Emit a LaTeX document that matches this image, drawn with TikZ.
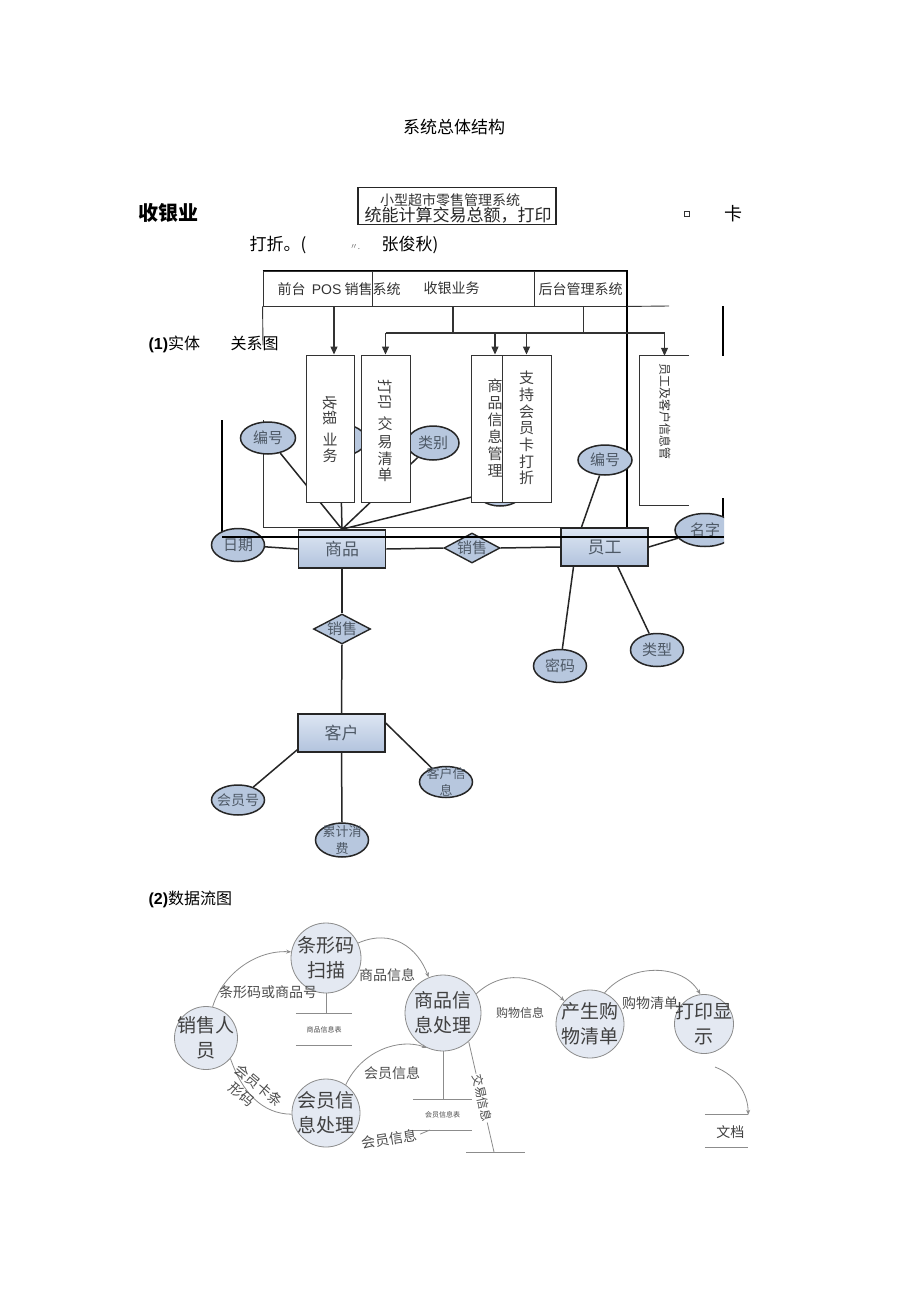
\documentclass[tikz,border=0pt]{standalone}
\usepackage{fontspec}
\setmainfont{Noto Sans CJK SC}
\newfontfamily\arialf{Liberation Sans}
\usetikzlibrary{shapes.geometric,arrows.meta,calc}
\newcommand\fsz[2]{\fontsize{#1pt}{#2pt}\selectfont}
\definecolor{erTop}{HTML}{DDE6F3}
\definecolor{erBot}{HTML}{B2C3DD}
\definecolor{ellfill}{HTML}{B7C7DE}
\definecolor{ertext}{HTML}{4E5966}
\definecolor{dfdfill}{HTML}{E4E9F2}
\definecolor{dfdline}{HTML}{8C8C8C}
\definecolor{dtext}{HTML}{404040}
\begin{document}
\begin{tikzpicture}[x=1pt,y=-1pt,
  er/.style={draw=black!85,line width=1.5pt},
  entity/.style={rectangle,draw=black!85,line width=1.6pt,top color=erTop,bottom color=erBot,
     minimum width=87pt,minimum height=38pt,inner sep=0pt,text=ertext,font=\fsz{17}{17}},
  attr/.style={ellipse,draw=black!85,line width=1.5pt,fill=ellfill,inner sep=0pt},
  ltxt/.style={text=ertext,font=\fsz{15}{15},align=center},
  rel/.style={diamond,draw=black!85,line width=1.4pt,fill=ellfill,inner sep=0pt,
     minimum width=56pt,minimum height=30pt},
  sbox/.style={rectangle,draw=black!80,line width=0.9pt,fill=white,minimum width=48pt,
     minimum height=147pt,inner sep=0pt},
  bar/.style={rectangle,draw=black!80,line width=0.9pt,minimum height=35pt,inner sep=0pt},
  vtxt/.style={font=\fsz{15}{15},text=black!75},
  sline/.style={draw=black!80,line width=1.1pt},
  sarr/.style={draw=black!80,line width=1.1pt,-{Triangle[length=8pt,width=7pt]}},
  proc/.style={circle,draw=dfdline,line width=0.8pt,fill=dfdfill,inner sep=0pt},
  ptxt/.style={text=dtext,font=\fsz{19}{25},align=center},
  flow/.style={draw=dfdline,line width=0.8pt,-{Stealth[length=5pt,width=4pt]}},
  fline/.style={draw=dfdline,line width=0.8pt},
  dlab/.style={text=black!70,font=\fsz{14}{14}},
  store/.style={draw=dfdline,line width=0.8pt}]
\fill[white] (0,0) rectangle (920,1303);
\useasboundingbox (0,0) rectangle (920,1303);

% ---------- header texts ----------
\node[font=\fsz{17}{17}] (title) at (454,127) {系统总体结构};
\node[font=\fsz{20}{20}\bfseries] (syy) at (168,213) {收银业};
\node[draw=black!85,line width=1.2pt,minimum width=198pt,minimum height=37pt,inner sep=0pt] (topbox) at (457,206) {};
\node[font=\fsz{14}{14},text=black!80] (tb1) at (450,200) {小型超市零售管理系统};
\node[font=\fsz{17}{17},text=black!85] (tb2) at (458,215) {统能计算交易总额，打印};
\node[draw=black!80,line width=0.6pt,minimum size=5pt,inner sep=0pt] (sq) at (687,214) {};
\node[font=\fsz{18}{18}] (ka) at (733,214) {卡};
\node[font=\fsz{17}{17},anchor=west] (dz) at (246,245) {打折。(};
\node[font=\fsz{8}{8},text=black!60] (dd) at (355,247) {〃.};
\node[font=\fsz{17}{17},anchor=west] (zjq) at (378,245) {张俊秋)};

% ---------- structure chart frame ----------
\node[bar,minimum width=109pt] (bar1) at (317.5,288.5) {};
\node[bar,minimum width=162pt] (bar2) at (453,288.5) {};
\node[bar,minimum width=93pt] (bar3) at (580.5,288.5) {};
\draw[line width=1.6pt] (bar1.north west) -- (bar3.north east);
\draw[line width=1.8pt] (627,270) -- (627,527);
\draw[line width=0.9pt,black!80] (bar3.south east) -- (669,306);
\draw[line width=0.9pt,black!80] (bar1.south west) -- (263,345);
\draw[line width=0.9pt,black!80] (263,420) -- (263,527) -- (627,527);
\draw[line width=1.3pt] (723,306) -- (723,356);
\draw[line width=1.1pt] (723,498) -- (723,537);
\draw[line width=1.1pt] (222,420) -- (222,537);
\node[font=\fsz{14}{14},text=black!80,anchor=west] (b1t) at (274,289) {前台\ \ {\arialf POS} 销售系统};
\node[font=\fsz{14}{14},text=black!80,anchor=west] (b2t) at (420,288) {收银业务};
\node[font=\fsz{14}{14},text=black!80,anchor=west] (b3t) at (535,289) {后台管理系统};

\node[font=\fsz{16}{16},anchor=west] (l1) at (145,344) {{\arialf\bfseries (1)}实体};
\node[font=\fsz{16}{16},anchor=west] (l1b) at (227,343) {关系图};

% ---------- ER nodes partly hidden behind the chart ----------
\node[entity] (shangpin) at (342,549) {商品};
\node[attr,minimum width=55pt,minimum height=32pt,label={[ltxt]center:编号}] (bianhao1) at (268,438) {};
\node[attr,minimum width=52pt,minimum height=32pt] (hid1) at (340,440) {};
\node[attr,minimum width=48pt,minimum height=32pt] (hid2) at (500,490) {};
\draw[er] (shangpin.north) -- (bianhao1);
\draw[er] (shangpin.north) -- (hid1);
\draw[er] (shangpin.north) -- (hid2);
\node[attr,minimum width=52pt,minimum height=34pt,label={[ltxt]center:类别}] (leibie) at (433,443) {};
\draw[er] (shangpin.north) -- (leibie);

% ---------- structure chart boxes ----------
\node[sbox] (box1) at (330,428.5) {};
\node[sbox,minimum width=49pt] (box2) at (385.5,428.5) {};
\node[sbox] (box3) at (495,428.5) {};
\node[sbox,minimum width=49pt] (box4) at (526.5,428.5) {};
\node[minimum width=49pt,minimum height=149pt,inner sep=0pt] (box5) at (664.5,430.5) {};
\draw[line width=0.9pt,black!80] (box5.north east) -- (box5.north west) -- (box5.south west) -- (box5.south east);

\node[vtxt,rotate=-90] (t1a) at (330,410) {收银};
\node[vtxt] (t1b) at (330,439) {业};
\node[vtxt] (t1c) at (330,456) {务};
\node[vtxt,rotate=-90] (t2a) at (385,394) {打印};
\node[vtxt] (t2b) at (385,424) {交};
\node[vtxt] (t2c) at (385,442) {易};
\node[vtxt] (t2d) at (385,459) {清};
\node[vtxt] (t2e) at (385,475) {单};
\node[vtxt,font=\fsz{15}{17},align=center] (t3) at (495,428) {商\\品\\信\\息\\管\\理};
\node[vtxt,font=\fsz{15}{16.7},align=center] (t4) at (526.5,428) {支\\持\\会\\员\\卡\\打\\折};
\node[font=\fsz{12}{12},text=black!80,rotate=-90] (t5) at (665,411) {员工及客户信息管};

\coordinate (dL) at (385.5,333);
\coordinate (dR) at (664.5,333);
\draw[sline] (dL) -- (dR);
\draw[sline] (bar2.south) -- (bar2.south |- dL);
\draw[sline] ($(bar3.south)+(3,0)$) -- ($(bar3.south |- dL)+(3,0)$);
\draw[sarr] ($(box1.north |- bar1.south)+(4,0)$) -- ($(box1.north)+(4,0)$);
\draw[sarr] (dL) -- (box2.north);
\draw[sarr] (box3.north |- dL) -- (box3.north);
\draw[sarr] (box4.north |- dL) -- (box4.north);
\draw[sarr] (dR) -- (box5.north);

% ---------- ER diagram ----------
\node[attr,minimum width=53pt,minimum height=33pt,label={[ltxt]center:日期}] (riqi) at (238,545) {};
\node[rel,label={[ltxt]center:销售}] (xs1) at (472,548) {};
\node[entity] (yuangong) at (604.5,547) {员工};
\begin{scope}
  \clip (0,0) rectangle (724,1303);
  \node[attr,minimum width=60pt,minimum height=33pt,label={[ltxt]center:名字}] (mingzi) at (705,530) {};
\end{scope}
\node[attr,minimum width=54pt,minimum height=30pt,label={[ltxt]center:编号}] (bianhao2) at (605,460) {};
\node[attr,minimum width=53pt,minimum height=33pt,label={[ltxt]center:密码}] (mima) at (560,666) {};
\node[attr,minimum width=53pt,minimum height=33pt,label={[ltxt]center:类型}] (leixing) at (657,650) {};
\node[rel,minimum width=57pt,label={[ltxt]center:销售}] (xs2) at (342,629) {};
\node[entity] (kehu) at (341.5,733) {客户};
\node[attr,minimum width=53pt,minimum height=30pt,label={[ltxt,font=\fsz{14}{14}]center:会员号}] (hyh) at (238,800) {};
\node[attr,minimum width=53pt,minimum height=34pt,label={[ltxt,font=\fsz{13}{17}]center:{累计消\\费}}] (leiji) at (342,840) {};
\node[attr,minimum width=53pt,minimum height=31pt,label={[ltxt,font=\fsz{13}{17}]center:{客户信\\息}}] (khxx) at (446,782) {};

\draw[er] (riqi) -- (shangpin.west);
\draw[er] (shangpin.east) -- (xs1.west);
\draw[er] (xs1.east) -- (yuangong.west);
\draw[er] ($(yuangong.north east)!0.5!(yuangong.south east)$) -- (mingzi);
\draw[er] ($(yuangong.north west)!0.24!(yuangong.north east)$) -- (bianhao2);
\draw[er] ($(yuangong.south west)!0.15!(yuangong.south east)$) -- (mima);
\draw[er] ($(yuangong.south west)!0.65!(yuangong.south east)$) -- (leixing);
\draw[er] (shangpin.south) -- (xs2.north);
\draw[er] (xs2.south) -- (kehu.north);
\draw[er] ($(kehu.south west)+(0,-3)$) -- (hyh);
\draw[er] (kehu.south) -- (leiji.north);
\draw[er] ($(kehu.north east)!0.25!(kehu.south east)$) -- (khxx);

\draw[line width=1.6pt] (222,537) -- (724,537);

% ---------- data flow diagram ----------
\node[font=\fsz{16}{16},anchor=west] (l2) at (145,899) {{\arialf\bfseries (2)}数据流图};

\node[proc,minimum size=70pt,label={[ptxt]center:{条形码\\扫描}}] (tm) at (326,958) {};
\node[proc,minimum size=63pt,label={[ptxt]center:{销售人\\员}}] (xsr) at (206,1038) {};
\node[proc,minimum size=76pt,label={[ptxt]center:{商品信\\息处理}}] (spc) at (443,1013) {};
\node[proc,minimum size=68pt,label={[ptxt]center:{会员信\\息处理}}] (hyc) at (326,1113) {};
\node[proc,minimum size=68pt,label={[ptxt]center:{产生购\\物清单}}] (csc) at (590,1024) {};
\node[proc,minimum size=59pt,label={[ptxt]center:{打印显\\示}}] (dyc) at (704,1024) {};

\node[minimum width=56pt,minimum height=31pt,inner sep=0pt,font=\fsz{7}{7},text=black!70] (spst) at (324,1029.5) {商品信息表};
\draw[store] (spst.north west) -- (spst.north east);
\draw[store] (spst.south west) -- (spst.south east);
\node[minimum width=59pt,minimum height=30pt,inner sep=0pt,font=\fsz{7}{7},text=black!70] (hyst) at (442.5,1115) {会员信息表};
\draw[store] (hyst.north west) -- (hyst.north east);
\draw[store] (hyst.south west) -- (hyst.south east);
\node[minimum width=43pt,minimum height=32pt,inner sep=0pt] (doc) at (726.5,1131) {};
\draw[store] (doc.north west) -- (doc.north east);
\draw[store] (doc.south west) -- (doc.south east);
\node[font=\fsz{14}{14},text=dtext,anchor=east] (doct) at (748,1132) {文档};
\coordinate (jyA) at (466,1152);
\coordinate (jyB) at (525,1152);
\draw[store] (jyA) -- (jyB);

\draw[fline] (tm.south) -- (tm.south |- spst.north);
\draw[fline] (spc.south) -- (spc.south |- hyst.north);

\draw[flow] (xsr.78) .. controls (222,975) and (255,950) .. (tm.170);
\draw[flow] (tm.25) .. controls (392,928) and (418,948) .. (spc.112);
\draw[flow] (hyc.55) .. controls (362,1050) and (400,1038) .. (spc.245);
\draw[fline] (xsr.-40) .. controls (242,1092) and (262,1114) .. (hyc.182);
\draw[flow] (spc.30) .. controls (502,970) and (535,973) .. (csc.138);
\draw[flow] (csc.65) .. controls (630,963) and (682,963) .. (dyc.97);
\coordinate (dyout) at (715,1067);
\draw[flow] (dyout) .. controls (738,1076) and (748,1095) .. (doc.north east);
\coordinate (jyin) at (494,1152);
\draw[fline] (spc.-48) -- (jyin);

\node[dlab] (f1) at (268,992) {条形码或商品号};
\node[dlab] (f2) at (387,975) {商品信息};
\node[dlab] (f3) at (392,1073) {会员信息};
\node[dlab,font=\fsz{12}{12}] (f4) at (520,1013) {购物信息};
\node[dlab] (f5) at (650,1003) {购物清单};
\node[dlab,font=\fsz{14}{18},rotate=-40,align=left] (f6) at (253,1092) {会员卡条\\\hspace*{7pt}形码};
\node[dlab,font=\fsz{12}{12},rotate=-78,fill=white,inner sep=1pt] (f8) at (482,1098) {交易信息};
\node[dlab,rotate=9] (f9) at (389,1139) {会员信息};
\coordinate (hyend) at (430,1130);
\draw[fline] (f9.east) -- (hyend);
\end{tikzpicture}
\end{document}
